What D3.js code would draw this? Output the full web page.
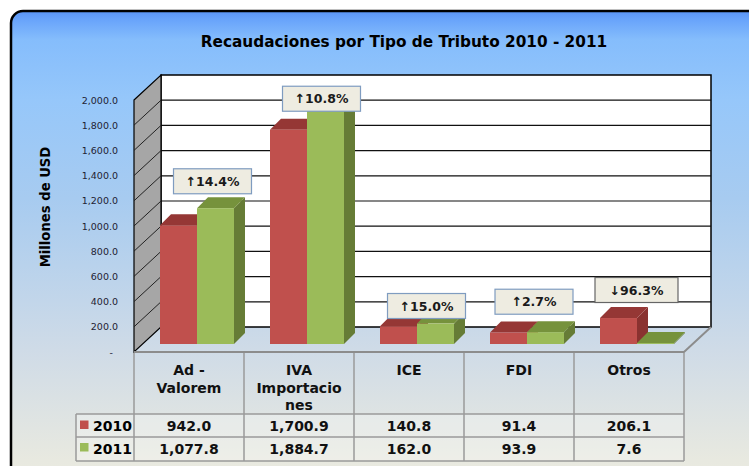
<!DOCTYPE html>
<html><head><meta charset="utf-8">
<script src="https://cdn.jsdelivr.net/npm/d3@7"></script>
<style>body{margin:0;background:#fff;overflow:hidden}svg{display:block}</style>
</head><body><svg id="c" width="749" height="466"></svg>
<script>
// ---- data ----
const categories = ["Ad - Valorem", "IVA Importaciones", "ICE", "FDI", "Otros"];
const categoryLines = [["Ad -", "Valorem"], ["IVA", "Importacio", "nes"], ["ICE"], ["FDI"], ["Otros"]];
const seriesNames = ["2010", "2011"];
const values2010 = [942.0, 1700.9, 140.8, 91.4, 206.1];
const values2011 = [1077.8, 1884.7, 162.0, 93.9, 7.6];
const tickValues = [0, 200, 400, 600, 800, 1000, 1200, 1400, 1600, 1800, 2000];
const changeLabels = ["↑14.4%", "↑10.8%", "↑15.0%", "↑2.7%", "↓96.3%"];
const titleText = "Recaudaciones por Tipo de Tributo 2010 - 2011";
const yTitle = "Millones de USD";

// ---- layout ----
const FONT = "'DejaVu Sans', Verdana, sans-serif";
const seriesValues = [values2010, values2011];
const colors = [
  {front: "#c0504d", top: "#953735", side: "#8a3230"},
  {front: "#9bbb59", top: "#76923c", side: "#667c36"}
];
const labelLevel = [1355, 2010, 365, 399, 492];   // annotation box centre (value units)
const labelShift = [23.5, 22.5, 17.5, 15, 7.5];    // annotation box x shift from band centre
const labelW = [78, 78, 78, 78, 83];

const svg = d3.select("#c");
const defs = svg.append("defs");
const g = defs.append("linearGradient").attr("id", "bg").attr("x1", 0).attr("y1", 0).attr("x2", 0).attr("y2", 1);
[[0, "#5a94f5"], [0.02, "#6aa5fb"], [0.06, "#85bdfc"], [0.185, "#96c7fa"], [0.39, "#a7cbf0"],
 [0.706, "#cfdbe7"], [0.935, "#e8e9e0"], [1, "#ecebe0"]].forEach(([o, c]) =>
  g.append("stop").attr("offset", o).attr("stop-color", c));

svg.append("rect").attr("x", 11).attr("y", 11).attr("width", 770).attr("height", 480)
  .attr("rx", 12).attr("fill", "url(#bg)").attr("stroke", "#000").attr("stroke-width", 2.5);

const x = d3.scaleBand().domain(categories).range([134, 684]);
const xs = d3.scaleBand().domain(seriesNames).range([18, 92]);
const y = d3.scaleLinear().domain([0, 2000]).range([352, 100]);
const WD = {dx: 27, dy: -25};  // wall depth
const BO = {dx: 8, dy: -8};    // bar offset into depth
const BD = {dx: 11, dy: -11};  // bar depth

const x0 = x.range()[0], x1 = x.range()[1];
const yb = y(0), yt = y(2000);

// back wall
svg.append("rect").attr("x", x0 + WD.dx).attr("y", yt + WD.dy)
  .attr("width", x1 - x0).attr("height", yb - yt)
  .attr("fill", "#fff").attr("stroke", "#000").attr("stroke-width", 1.5);
// back gridlines
svg.append("g").selectAll("line").data(tickValues.filter(t => t > 0 && t < 2000)).join("line")
  .attr("x1", x0 + WD.dx).attr("x2", x1 + WD.dx)
  .attr("y1", d => y(d) + WD.dy).attr("y2", d => y(d) + WD.dy)
  .attr("stroke", "#111").attr("stroke-width", 1.2);
// side wall
svg.append("polygon")
  .attr("points", [[x0, yt], [x0 + WD.dx, yt + WD.dy], [x0 + WD.dx, yb + WD.dy], [x0, yb]].join(" "))
  .attr("fill", "#a6a6a6").attr("stroke", "#000").attr("stroke-width", 1.2);
svg.append("g").selectAll("line").data(tickValues.filter(t => t > 0 && t < 2000)).join("line")
  .attr("x1", x0).attr("x2", x0 + WD.dx)
  .attr("y1", d => y(d)).attr("y2", d => y(d) + WD.dy)
  .attr("stroke", "#222").attr("stroke-width", 1);
// floor edges
svg.append("polyline")
  .attr("points", [[x0, yb], [x1, yb], [x1 + WD.dx, yb + WD.dy]].join(" "))
  .attr("fill", "none").attr("stroke", "#8c8c8c").attr("stroke-width", 2);

// bars
const bars = svg.append("g");
categories.forEach((c, i) => {
  seriesNames.forEach((s, k) => {
    const v = seriesValues[k][i];
    const bx = x(c) + xs(s) + BO.dx, w = xs.bandwidth();
    const ty = y(v) + BO.dy, by = y(0) + BO.dy;
    const col = colors[k];
    bars.append("polygon")
      .attr("points", [[bx + w, ty], [bx + w + BD.dx, ty + BD.dy], [bx + w + BD.dx, by + BD.dy], [bx + w, by]].join(" "))
      .attr("fill", col.side);
    bars.append("polygon")
      .attr("points", [[bx, ty], [bx + w, ty], [bx + w + BD.dx, ty + BD.dy], [bx + BD.dx, ty + BD.dy]].join(" "))
      .attr("fill", col.top);
    bars.append("rect").attr("x", bx).attr("y", ty).attr("width", w).attr("height", by - ty)
      .attr("fill", col.front);
  });
});

// annotation boxes
const ann = svg.append("g").selectAll("g").data(changeLabels).join("g")
  .attr("transform", (d, i) => `translate(${x(categories[i]) + x.bandwidth() / 2 + labelShift[i]},${y(labelLevel[i])})`);
ann.append("rect").attr("x", (d, i) => -labelW[i] / 2).attr("y", -12.5)
  .attr("width", (d, i) => labelW[i]).attr("height", 25)
  .attr("fill", "#eeece1").attr("stroke", (d, i) => i === 4 ? "#666" : "#7f9cc0").attr("stroke-width", 1.2);
ann.append("text").text(d => d).attr("text-anchor", "middle").attr("y", 4.5)
  .attr("font-family", FONT).attr("font-weight", "bold").attr("font-size", 12.5).attr("fill", "#1a1a1a");

// y axis
const axis = d3.axisLeft(y).tickValues(tickValues).tickSize(0).tickPadding(0)
  .tickFormat(d => d === 0 ? "-" : d3.format(",.1f")(d));
const ag = svg.append("g").attr("transform", "translate(118,0)").call(axis);
ag.select(".domain").remove();
ag.selectAll("text").attr("font-family", FONT).attr("font-size", 9.5).attr("fill", "#1f2233")
  .attr("dx", d => d === 0 ? -5 : 0);

// titles
svg.append("text").text(titleText).attr("x", 404).attr("y", 47).attr("text-anchor", "middle")
  .attr("font-family", FONT).attr("font-weight", "bold").attr("font-size", 15.3).attr("fill", "#000");
svg.append("text").text(yTitle).attr("transform", "translate(49.5,207) rotate(-90)").attr("text-anchor", "middle")
  .attr("font-family", FONT).attr("font-weight", "bold").attr("font-size", 13.2).attr("fill", "#000");

// data table
const rowTop = 353, headBot = 414, r1Bot = 437, r2Bot = 461, legL = 76;
const tb = svg.append("g");
tb.append("rect").attr("x", legL).attr("y", headBot).attr("width", x1 - legL).attr("height", r2Bot - headBot)
  .attr("fill", "#fff").attr("fill-opacity", 0.25);
const lc = "#9a9a9a";
[headBot, r1Bot, r2Bot].forEach(yy => tb.append("line").attr("x1", legL).attr("x2", x1).attr("y1", yy).attr("y2", yy)
  .attr("stroke", lc).attr("stroke-width", 1.5));
tb.append("line").attr("x1", legL).attr("x2", legL).attr("y1", headBot).attr("y2", r2Bot).attr("stroke", lc).attr("stroke-width", 1.5);
categories.concat([null]).forEach((c, i) => {
  const xx = c ? x(c) : x1;
  tb.append("line").attr("x1", xx).attr("x2", xx).attr("y1", rowTop).attr("y2", r2Bot).attr("stroke", lc).attr("stroke-width", 1.5);
});
categories.forEach((c, i) => {
  const cx = x(c) + x.bandwidth() / 2;
  categoryLines[i].forEach((ln, j) => tb.append("text").text(ln).attr("x", cx).attr("y", 375 + j * 17.5)
    .attr("text-anchor", "middle").attr("font-family", FONT).attr("font-weight", "bold").attr("font-size", 14).attr("fill", "#111"));
  seriesValues.forEach((vals, k) => tb.append("text").text(d3.format(",.1f")(vals[i])).attr("x", cx).attr("y", k ? 454 : 431)
    .attr("text-anchor", "middle").attr("font-family", FONT).attr("font-weight", "bold").attr("font-size", 14).attr("fill", "#111"));
});
seriesNames.forEach((s, k) => {
  const ry = k ? 443 : 420.5;
  tb.append("rect").attr("x", 80).attr("y", ry).attr("width", 8.5).attr("height", 8.5).attr("fill", colors[k].front);
  tb.append("text").text(s).attr("x", 93).attr("y", k ? 454 : 431)
    .attr("font-family", FONT).attr("font-weight", "bold").attr("font-size", 14).attr("fill", "#000");
});
</script></body></html>
